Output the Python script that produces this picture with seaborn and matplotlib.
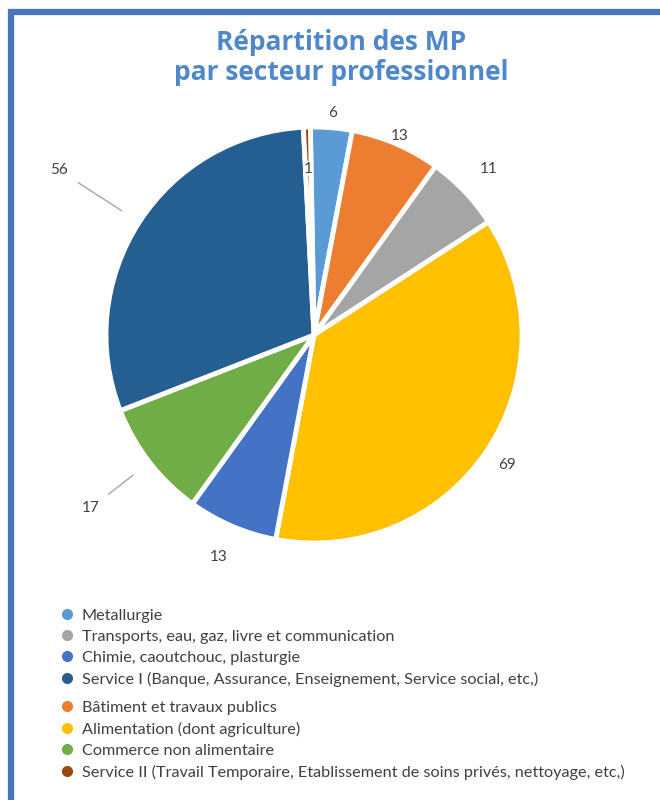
import matplotlib
matplotlib.use("Agg")
import matplotlib.pyplot as plt
from matplotlib.lines import Line2D
import numpy as np
import seaborn as sns

# Data: occupational diseases (MP) by professional sector, clockwise from the top
sectors = [
    "Metallurgie",
    "Bâtiment et travaux publics",
    "Transports, eau, gaz, livre et communication",
    "Alimentation (dont agriculture)",
    "Chimie, caoutchouc, plasturgie",
    "Commerce non alimentaire",
    "Service I (Banque, Assurance, Enseignement, Service social, etc,)",
    "Service II (Travail Temporaire, Etablissement de soins privés, nettoyage, etc,)",
]
counts = [6, 13, 11, 69, 13, 17, 56, 1]
colors = ["#5B9BD5", "#ED7D31", "#A5A5A5", "#FFC000",
          "#4472C4", "#70AD47", "#255E91", "#9E480E"]

# Legend order (two groups)
legend_group_1 = [0, 2, 4, 6]
legend_group_2 = [1, 3, 5, 7]

# Radial placement of each value label, and which labels get a leader line
label_radius = [1.07, 1.04, 1.16, 1.12, 1.16, 1.36, 1.46, 0.80]
leader = {5: (1.25, 1.10), 6: (1.35, 1.10)}

sns.set_theme(style="white")
plt.rcParams["font.family"] = ["Lato", "DejaVu Sans"]

W, H = 660, 800
fig = plt.figure(figsize=(W / 100, H / 100), dpi=100)
fig.patch.set_facecolor("white")

# Blue frame along the top and left
frame_color = "#4677BE"
fig.add_artist(Line2D([8 / W, 1.0], [1 - 12 / H, 1 - 12 / H], color=frame_color,
                      lw=4.5, solid_capstyle="butt", transform=fig.transFigure))
fig.add_artist(Line2D([11 / W, 11 / W], [1 - 10 / H, 0.0], color=frame_color,
                      lw=4.5, solid_capstyle="butt", transform=fig.transFigure))

# Title
title_color = "#4F87CB"
for txt, yy in [("Répartition des MP", 43), ("par secteur professionnel", 73)]:
    fig.text(341 / W, 1 - yy / H, txt, ha="center", va="center", fontsize=19,
             fontweight="bold", color=title_color, family=["Open Sans", "DejaVu Sans"])

# Pie
cx, cy, r = 314, 335, 208
ax = fig.add_axes([(cx - r) / W, (H - cy - r) / H, 2 * r / W, 2 * r / H])
wedges, _ = ax.pie(counts, colors=colors, startangle=91, counterclock=False,
                   radius=1.0, wedgeprops=dict(edgecolor="white", linewidth=3.5))
ax.set_xlim(-1, 1)
ax.set_ylim(-1, 1)
ax.set_aspect("equal")
ax.axis("off")

for i, w in enumerate(wedges):
    mid = np.deg2rad((w.theta1 + w.theta2) / 2)
    dx, dy = np.cos(mid), np.sin(mid)
    rr = label_radius[i]
    inside = rr < 1
    ax.text(rr * dx, rr * dy, str(counts[i]), ha="center", va="center",
            fontsize=11, color="#404040", clip_on=False,
            bbox=dict(facecolor="white", edgecolor="none", pad=0.3) if inside else None)
    if i in leader:
        r0, r1 = leader[i]
        ax.plot([r0 * dx, r1 * dx], [r0 * dy, r1 * dy], color="#A6A6A6",
                lw=1.0, clip_on=False)

# Legend (two blocks)
def make_legend(idx, top_px):
    handles = [Line2D([], [], marker="o", linestyle="", markersize=7,
                      markerfacecolor=colors[i], markeredgecolor=colors[i])
               for i in idx]
    labels = [sectors[i] for i in idx]
    leg = fig.legend(handles, labels, loc="upper left",
                     bbox_to_anchor=(49 / W, 1 - top_px / H),
                     frameon=False, fontsize=11.7, handlelength=0.8,
                     handletextpad=0.5, labelspacing=0.42, borderpad=0.2,
                     labelcolor="#404040")
    return leg

make_legend(legend_group_1, 597)
make_legend(legend_group_2, 689)

fig.savefig("out.png", dpi=100, facecolor="white")
